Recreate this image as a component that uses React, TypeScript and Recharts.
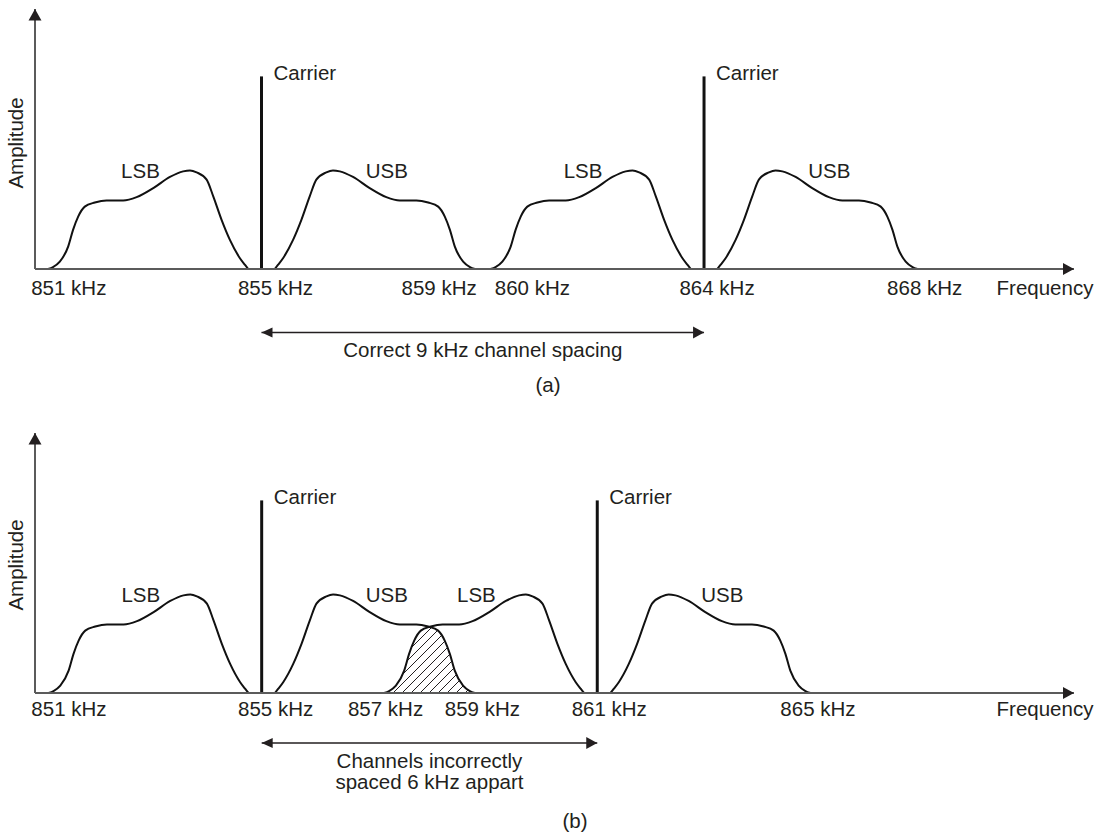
import React from 'react';
import {
  ComposedChart,
  Line,
  Area,
  XAxis,
  YAxis,
  ReferenceLine,
  ReferenceDot,
} from 'recharts';

// one sideband, from the carrier outward: share of the drawn band width, amplitude (carrier = 1)
const SHAPE_POS = [0.062, 0.077, 0.101, 0.148, 0.187, 0.226, 0.257, 0.304, 0.335, 0.367, 0.429, 0.507, 0.585, 0.648, 0.726, 0.781, 0.828, 0.859, 0.883, 0.906, 0.945, 0.977, 1.0];
const SHAPE_AMP = [0, 0.021, 0.056, 0.151, 0.255, 0.377, 0.464, 0.502, 0.512, 0.507, 0.478, 0.42, 0.373, 0.356, 0.356, 0.345, 0.324, 0.272, 0.203, 0.116, 0.038, 0.01, 0];

const CARRIER_LEVEL = 1;

// (a) correct spacing
const CARRIERS_A = [855, 864];
const BAND_A = 4.34; // kHz, as drawn
const TICKS_A = [851, 855, 859, 860, 864, 868];

// (b) channels too close
const CARRIERS_B = [855, 861];
const BAND_B = 3.81;
const TICKS_B = [851, 855, 857, 859, 861, 865];

const INK = '#231f20';
const AXIS = '#5b5b5b';
const FONT = '"Liberation Sans", Arial, Helvetica, sans-serif';
const FS = 20.5;

const usb = (c: number, w: number) => SHAPE_POS.map((p, i) => ({ f: c + p * w, a: SHAPE_AMP[i] }));
const lsb = (c: number, w: number) =>
  SHAPE_POS.map((p, i) => ({ f: c - p * w, a: SHAPE_AMP[i] })).reverse();

const txt = { fontFamily: FONT, fontSize: FS, fill: INK };

const arrowRight = (p: any) => (
  <polygon points={`${p.cx},${p.cy} ${p.cx - 11},${p.cy - 6} ${p.cx - 11},${p.cy + 6}`} fill={INK} />
);
const arrowLeft = (p: any) => (
  <polygon points={`${p.cx},${p.cy} ${p.cx + 11},${p.cy - 5} ${p.cx + 11},${p.cy + 5}`} fill={INK} />
);
const arrowUp = (p: any) => (
  <polygon points={`${p.cx},${p.cy} ${p.cx - 6.5},${p.cy + 11.5} ${p.cx + 6.5},${p.cy + 11.5}`} fill={INK} />
);

const makeTick = (dx: Record<number, number>, dy: number) => (props: any) => {
  const { x, y, payload } = props;
  return (
    <text x={x + (dx[payload.value] ?? 0)} y={y + dy} textAnchor="middle" {...txt}>
      {payload.value} kHz
    </text>
  );
};

interface PanelProps {
  carriers: number[];
  band: number;
  ticks: number[];
  tickDx: Record<number, number>;
  tickDy: number;
  xDomain: [number, number];
  height: number;
  margin: { top: number; right: number; bottom: number; left: number };
  spanY: number;
  spanText: string[];
  caption: string;
  captionX: number;
  captionY: number;
  ampY: number;
  overlap?: boolean;
}

const Panel: React.FC<PanelProps> = (props) => {
  const { carriers, band, xDomain, spanY } = props;
  const yMax = 1.35;
  const mid = (carriers[0] + carriers[1]) / 2;

  // shaded part where the USB of the first station runs into the LSB of the second
  const overlapData = props.overlap
    ? [
        ...lsb(carriers[1], band).filter((p) => p.f <= mid + 0.03),
        ...usb(carriers[0], band).filter((p) => p.f > mid + 0.03),
      ]
    : [];

  return (
    <ComposedChart width={1105} height={props.height} margin={props.margin}>
      <defs>
        <pattern id="hatch" patternUnits="userSpaceOnUse" width={9} height={9}>
          <path d="M-1,1 l2,-2 M0,9 l9,-9 M8,10 l2,-2" stroke={INK} strokeWidth={1} />
        </pattern>
      </defs>
      <XAxis
        type="number"
        dataKey="f"
        domain={xDomain}
        allowDataOverflow
        ticks={props.ticks}
        interval={0}
        tickLine={false}
        tickSize={0}
        tickMargin={0}
        height={30}
        axisLine={{ stroke: AXIS, strokeWidth: 2 }}
        tick={makeTick(props.tickDx, props.tickDy)}
      />
      <YAxis
        type="number"
        domain={[0, yMax]}
        allowDataOverflow
        width={35}
        tick={false}
        tickLine={false}
        axisLine={{ stroke: AXIS, strokeWidth: 2 }}
      />

      {props.overlap && (
        <Area
          data={overlapData}
          dataKey="a"
          type="monotone"
          stroke="none"
          fill="url(#hatch)"
          fillOpacity={1}
          isAnimationActive={false}
        />
      )}

      {carriers.map((c) => (
        <Line
          key={`l${c}`}
          data={lsb(c, band)}
          dataKey="a"
          type="monotone"
          dot={false}
          stroke="#111"
          strokeWidth={2}
          isAnimationActive={false}
        />
      ))}
      {carriers.map((c) => (
        <Line
          key={`u${c}`}
          data={usb(c, band)}
          dataKey="a"
          type="monotone"
          dot={false}
          stroke="#111"
          strokeWidth={2}
          isAnimationActive={false}
        />
      ))}

      {carriers.map((c) => (
        <ReferenceLine
          key={`c${c}`}
          segment={[{ x: c, y: 0 }, { x: c, y: CARRIER_LEVEL }]}
          stroke="#111"
          strokeWidth={3}
        />
      ))}
      {carriers.map((c) => (
        <ReferenceDot
          key={`ct${c}`}
          x={c}
          y={CARRIER_LEVEL}
          r={0}
          shape={(p: any) => (
            <text x={p.cx + 12} y={p.cy + 3.5} {...txt}>
              Carrier
            </text>
          )}
        />
      ))}
      {carriers.map((c) => (
        <ReferenceDot
          key={`ls${c}`}
          x={c - 0.567 * band}
          y={0.472}
          r={0}
          shape={(p: any) => (
            <text x={p.cx} y={p.cy} textAnchor="middle" {...txt}>
              LSB
            </text>
          )}
        />
      ))}
      {carriers.map((c) => (
        <ReferenceDot
          key={`us${c}`}
          x={c + 0.587 * band}
          y={0.472}
          r={0}
          shape={(p: any) => (
            <text x={p.cx} y={p.cy} textAnchor="middle" {...txt}>
              USB
            </text>
          )}
        />
      ))}

      {/* axis arrows */}
      <ReferenceDot x={xDomain[1]} y={0} r={0} ifOverflow="visible" shape={arrowRight} />
      <ReferenceDot
        x={xDomain[1]}
        y={0}
        r={0}
        ifOverflow="visible"
        shape={(p: any) => (
          <text x={p.cx - 29} y={p.cy + props.tickDy} textAnchor="middle" {...txt}>
            Frequency
          </text>
        )}
      />
      <ReferenceDot x={xDomain[0]} y={yMax} r={0} ifOverflow="visible" shape={arrowUp} />

      {/* channel spacing */}
      <ReferenceLine
        segment={[{ x: carriers[0], y: spanY }, { x: carriers[1], y: spanY }]}
        stroke={INK}
        strokeWidth={1.5}
        ifOverflow="visible"
      />
      <ReferenceDot x={carriers[0]} y={spanY} r={0} ifOverflow="visible" shape={arrowLeft} />
      <ReferenceDot x={carriers[1]} y={spanY} r={0} ifOverflow="visible" shape={arrowRight} />
      <ReferenceDot
        x={mid}
        y={spanY}
        r={0}
        ifOverflow="visible"
        shape={(p: any) => (
          <text x={p.cx} y={p.cy + 24.5} textAnchor="middle" {...txt}>
            {props.spanText.map((s, i) => (
              <tspan key={i} x={p.cx} dy={i === 0 ? 0 : 21}>
                {s}
              </tspan>
            ))}
          </text>
        )}
      />

      <text x={23} y={props.ampY} transform={`rotate(-90, 23, ${props.ampY})`} textAnchor="middle" {...txt}>
        Amplitude
      </text>
      <text x={props.captionX} y={props.captionY} textAnchor="middle" {...txt}>
        {props.caption}
      </text>
    </ComposedChart>
  );
};

export default function App() {
  return (
    <div style={{ position: 'absolute', left: 0, top: 0, width: 1105, height: 833, background: '#fff' }}>
      <div style={{ position: 'absolute', left: 0, top: 0 }}>
        <Panel
          carriers={CARRIERS_A}
          band={BAND_A}
          ticks={TICKS_A}
          tickDx={{ 851: 4, 855: 14, 859: -19, 860: 25, 864: 13, 868: 24 }}
          tickDy={26}
          xDomain={[850.394, 871.524]}
          height={410}
          margin={{ top: 9, right: 31, bottom: 111, left: 0 }}
          spanY={-0.33}
          spanText={['Correct 9 kHz channel spacing']}
          caption="(a)"
          captionX={548}
          captionY={392}
          ampY={143}
        />
      </div>
      <div style={{ position: 'absolute', left: 0, top: 420 }}>
        <Panel
          carriers={CARRIERS_B}
          band={BAND_B}
          ticks={TICKS_B}
          tickDx={{ 851: 31, 855: 14, 857: 12, 859: -3, 861: 12, 865: -3 }}
          tickDy={23}
          xDomain={[850.947, 869.524]}
          height={413}
          margin={{ top: 13, right: 31, bottom: 110, left: 0 }}
          spanY={-0.26}
          spanText={['Channels incorrectly', 'spaced 6 kHz appart']}
          caption="(b)"
          captionX={575}
          captionY={408}
          ampY={145}
          overlap
        />
      </div>
    </div>
  );
}
